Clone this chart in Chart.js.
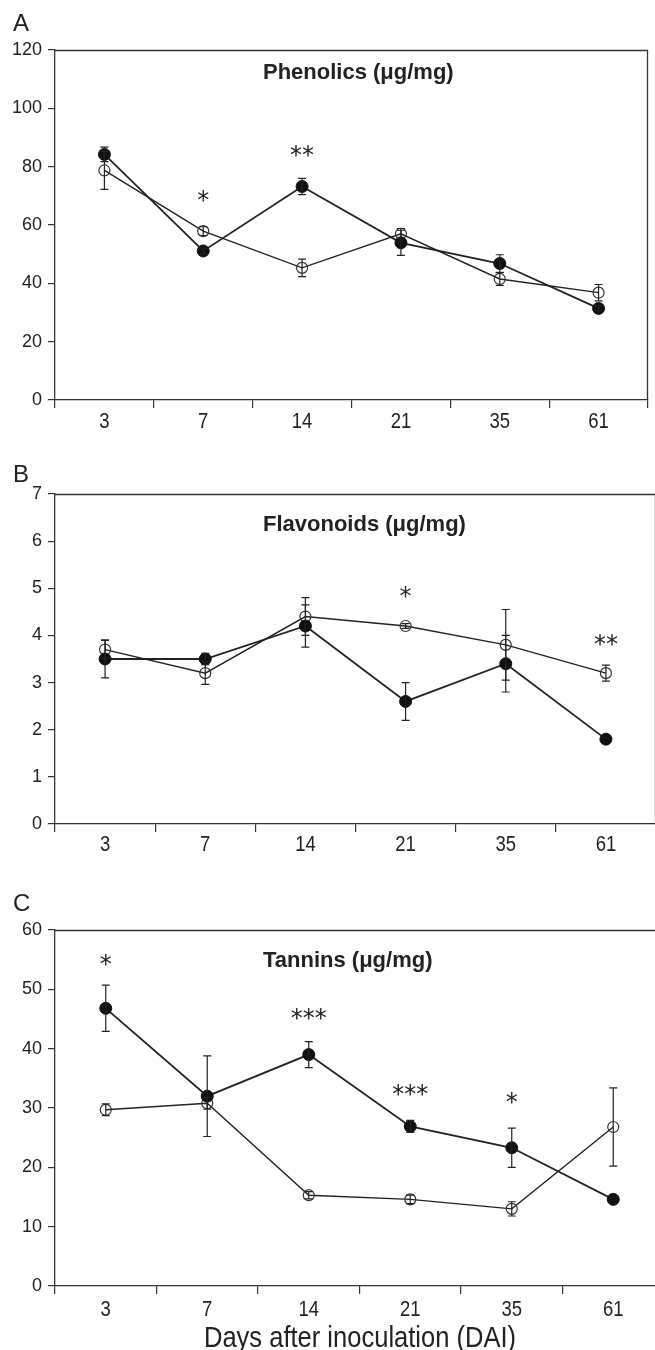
<!DOCTYPE html>
<html>
<head>
<meta charset="utf-8">
<script src="https://cdn.jsdelivr.net/npm/chart.js@4.4.0/dist/chart.umd.min.js"></script>
<style>
	html, body { margin: 0; background: #fff; overflow: hidden; }
	body { width: 655px; height: 1350px; position: relative; font-family: 'Liberation Sans', Arial, sans-serif; }
	canvas { position: absolute; left: 0; }
	.letter { position: absolute; left: 13px; font-size: 24px; line-height: 1; color: #222; }
</style>
</head>
<body>
<canvas id="chart-a" width="655" height="440" style="top:0"></canvas>
<canvas id="chart-b" width="656" height="440" style="top:440px"></canvas>
<canvas id="chart-c" width="664" height="470" style="top:880px"></canvas>
<div class="letter" style="top:11px">A</div>
<div class="letter" style="top:462px">B</div>
<div class="letter" style="top:891px">C</div>
<script>
const days = ['3', '7', '14', '21', '35', '61'];

// Phenolics (panel A)
const phenolicsFilled = [84.2, 51.1, 73.2, 53.9, 46.8, 31.4];
const phenolicsFilledErr = [2.5, 1.0, 2.8, 4.3, 3.0, 0.8];
const phenolicsOpen = [78.7, 57.9, 45.3, 57.0, 41.5, 36.8];
const phenolicsOpenErr = [6.5, 1.5, 3.0, 1.8, 2.2, 2.8];
const phenolicsStars = ['', '*', '**', '', '', ''];
const phenolicsStarY = [null, 70.1, 85.3, null, null, null];

// Flavonoids (panel B)
const flavonoidsFilled = [3.5, 3.5, 4.2, 2.6, 3.4, 1.8];
const flavonoidsFilledErr = [0.4, 0.12, 0.45, 0.4, 0.6, 0];
const flavonoidsOpen = [3.7, 3.2, 4.4, 4.2, 3.8, 3.2];
const flavonoidsOpenErr = [0.2, 0.24, 0.4, 0.05, 0.75, 0.17];
const flavonoidsStars = ['', '', '', '*', '', '**'];
const flavonoidsStarY = [null, null, null, 4.93, null, 3.9];

// Tannins (panel C)
const tanninsFilled = [46.8, 32.0, 39.0, 26.9, 23.3, 14.6];
const tanninsFilledErr = [3.9, 6.8, 2.2, 1.0, 3.3, 0];
const tanninsOpen = [29.7, 30.8, 15.3, 14.6, 13.0, 26.8];
const tanninsOpenErr = [1.0, 1.0, 0.6, 0.7, 1.2, 6.6];
const tanninsStars = ['*', '', '***', '***', '*', ''];
const tanninsStarY = [54.9, null, 45.9, 33.1, 31.7, null];

const INK = '#222';

// narrow text (no Arial Narrow here, so squeeze Liberation Sans)
function narrowText(ctx, text, x, y, size, squeeze) {
	ctx.save();
	ctx.font = size + 'px "Liberation Sans", Arial';
	ctx.textAlign = 'center';
	ctx.textBaseline = 'middle';
	ctx.translate(x, y);
	ctx.scale(squeeze, 1);
	ctx.fillText(text, 0, 0);
	ctx.restore();
}

// error bars, box, title, asterisks, x labels
const extrasPlugin = {
	id: 'extras',
	afterDatasetsDraw(chart, args, opts) {
		const ctx = chart.ctx;
		const x = chart.scales.x;
		const y = chart.scales.y;
		const area = chart.chartArea;
		ctx.save();
		ctx.strokeStyle = INK;
		ctx.lineWidth = 1.2;
		chart.data.datasets.forEach((ds, di) => {
			const meta = chart.getDatasetMeta(di);
			ds.errors.forEach((e, i) => {
				if (!e) return;
				const px = meta.data[i].x;
				const top = y.getPixelForValue(ds.data[i] + e);
				const bot = y.getPixelForValue(ds.data[i] - e);
				ctx.beginPath();
				ctx.moveTo(px, top); ctx.lineTo(px, bot);
				ctx.moveTo(px - 4, top); ctx.lineTo(px + 4, top);
				ctx.moveTo(px - 4, bot); ctx.lineTo(px + 4, bot);
				ctx.stroke();
			});
		});

		// top and right side of the box
		ctx.lineWidth = 1.3;
		ctx.strokeStyle = '#333';
		ctx.beginPath();
		ctx.moveTo(area.left, area.top + 0.5);
		ctx.lineTo(area.right - 0.5, area.top + 0.5);
		ctx.lineTo(area.right - 0.5, area.bottom);
		ctx.stroke();

		ctx.fillStyle = INK;
		ctx.textAlign = 'left';
		ctx.textBaseline = 'middle';
		ctx.font = 'bold 22px "Liberation Sans", Arial';
		ctx.fillText(opts.title, 263, y.getPixelForValue(opts.titleY));

		ctx.font = '24px "DejaVu Sans"';
		ctx.textAlign = 'center';
		ctx.textBaseline = 'alphabetic';
		opts.stars.forEach((s, i) => {
			if (!s) return;
			const m = ctx.measureText(s);
			const off = (m.actualBoundingBoxAscent - m.actualBoundingBoxDescent) / 2;
			ctx.fillText(s, x.getPixelForValue(i), y.getPixelForValue(opts.starY[i]) + off);
		});

		days.forEach((d, i) => {
			narrowText(ctx, d, x.getPixelForValue(i), area.bottom + opts.labelGap, 22, 0.84);
		});
		if (opts.xTitle) {
			narrowText(ctx, opts.xTitle, 360, area.bottom + 53, 29, 0.88);
		}
		ctx.restore();
	}
};

function makeChart(id, p) {
	const ctx = document.getElementById(id).getContext('2d');
	return new Chart(ctx, {
		type: 'line',
		data: {
			labels: days,
			datasets: [{
				data: p.filled,
				errors: p.filledErr,
				borderColor: INK,
				borderWidth: 1.8,
				pointRadius: 6,
				pointBackgroundColor: '#111',
				pointBorderColor: '#111',
				pointBorderWidth: 1,
				tension: 0,
			}, {
				data: p.open,
				errors: p.openErr,
				borderColor: INK,
				borderWidth: 1.4,
				pointRadius: 5.5,
				pointBackgroundColor: 'rgba(255,255,255,0)',
				pointBorderColor: '#333',
				pointBorderWidth: 1.2,
				tension: 0,
			}],
		},
		options: {
			responsive: false,
			animation: false,
			layout: { autoPadding: false, padding: { top: p.top, right: p.right, left: 0, bottom: 0 } },
			plugins: {
				legend: { display: false },
				tooltip: { enabled: false },
				extras: { title: p.title, titleY: p.titleY, stars: p.stars, starY: p.starY, labelGap: p.labelGap, xTitle: p.xTitle },
			},
			scales: {
				x: {
					offset: true,
					grid: { offset: true, drawOnChartArea: false, color: '#333', tickLength: 8, lineWidth: 1.2 },
					border: { color: '#333', width: 1.3 },
					ticks: { display: false },
					afterFit(s) { s.height = p.bottom; },
				},
				y: {
					min: 0,
					max: p.max,
					grid: { drawOnChartArea: false, color: '#333', tickLength: 7, lineWidth: 1.2 },
					border: { color: '#333', width: 1.3 },
					ticks: { stepSize: p.step, color: INK, padding: 6, font: { family: '"Liberation Sans"', size: 18 } },
					afterFit(s) { s.width = 55; },
				},
			},
		},
		plugins: [extrasPlugin],
	});
}

makeChart('chart-a', {
	filled: phenolicsFilled, filledErr: phenolicsFilledErr,
	open: phenolicsOpen, openErr: phenolicsOpenErr,
	stars: phenolicsStars, starY: phenolicsStarY,
	title: 'Phenolics (\u03bcg/mg)', titleY: 112.3,
	max: 120, step: 20, top: 50, right: 7, bottom: 40, labelGap: 22,
});

makeChart('chart-b', {
	filled: flavonoidsFilled, filledErr: flavonoidsFilledErr,
	open: flavonoidsOpen, openErr: flavonoidsOpenErr,
	stars: flavonoidsStars, starY: flavonoidsStarY,
	title: 'Flavonoids (\u03bcg/mg)', titleY: 6.34,
	max: 7, step: 1, top: 54, right: 0, bottom: 56, labelGap: 21,
});

makeChart('chart-c', {
	filled: tanninsFilled, filledErr: tanninsFilledErr,
	open: tanninsOpen, openErr: tanninsOpenErr,
	stars: tanninsStars, starY: tanninsStarY,
	title: 'Tannins (\u03bcg/mg)', titleY: 54.85,
	max: 60, step: 10, top: 50, right: 0, bottom: 64, labelGap: 24,
	xTitle: 'Days after inoculation (DAI)',
});
</script>
</body>
</html>
